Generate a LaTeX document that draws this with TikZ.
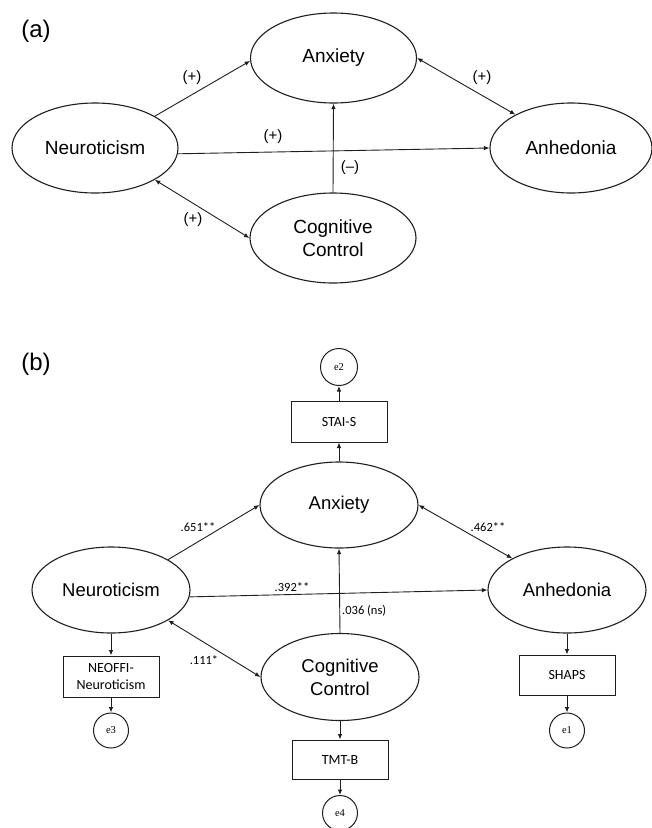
\documentclass[tikz,border=0pt]{standalone}
\usepackage{fontspec}
\setmainfont{Liberation Sans}
\newfontfamily\calfont{Carlito}
\newfontfamily\serfont{Liberation Serif}
\usetikzlibrary{shapes.geometric,arrows.meta}
\definecolor{ink}{gray}{0.12}

\begin{document}
\begin{tikzpicture}[x=1pt,y=-1pt,
    latent/.style={draw=ink,line width=1.1pt,ellipse,inner sep=0pt,align=center,
      minimum width=166pt,minimum height=90pt,font=\fontsize{19}{23}\selectfont},
    latentb/.style={latent,minimum width=158pt,minimum height=86pt,font=\fontsize{18.5}{23}\selectfont},
    obs/.style={draw=ink,line width=1pt,rectangle,inner sep=0pt,align=center,
      minimum width=96pt,minimum height=41pt,font=\calfont\fontsize{14}{17}\selectfont},
    err/.style={draw=ink,line width=1pt,circle,inner sep=0pt,minimum size=37pt,
      font=\serfont\fontsize{10.5}{10.5}\selectfont},
    sign/.style={inner sep=0pt,font=\fontsize{15}{15}\selectfont},
    coef/.style={inner sep=0pt,font=\calfont\fontsize{12.5}{12.5}\selectfont},
    arr/.style={draw=ink,line width=0.9pt,-{Latex[length=5.5pt,width=4.5pt]}},
    darr/.style={draw=ink,line width=0.9pt,{Latex[length=5.5pt,width=4.5pt]}-{Latex[length=5.5pt,width=4.5pt]}}]
  \useasboundingbox (0,0) rectangle (652,828);

  % (a) hypothesised model
  \node[font=\fontsize{24}{24}\selectfont] (labA) at (36,31) {(a)};
  \node[latent] (anxA) at (333.5,58) {Anxiety};
  \node[latent] (neuA) at (95,148) {Neuroticism};
  \node[latent,minimum width=162pt] (anhA) at (571,148) {Anhedonia};
  \node[latent] (ccA) at (333,238) {Cognitive\\Control};

  \draw[arr] (neuA.28) -- (anxA.182);
  \draw[arr] (neuA.-4) -- (anhA.west);
  \draw[arr] (ccA.north) -- (anxA.south);
  \draw[darr] (neuA.-28) -- (ccA.west);
  \draw[darr] (anxA.east) -- (anhA.149);

  \node[sign] (sAa) at (192,78) {(+)};
  \node[sign] (sAb) at (273,137) {(+)};
  \node[sign] (sAc) at (350,168) {(--)};
  \node[sign] (sAd) at (193,220) {(+)};
  \node[sign] (sAe) at (482,78) {(+)};

  % (b) fitted model
  \node[font=\fontsize{24}{24}\selectfont] (labB) at (36,364) {(b)};
  \node[err] (e2) at (339,367) {e2};
  \node[obs] (stai) at (339,421.5) {STAI-S};
  \node[latentb] (anxB) at (339,505) {Anxiety};
  \node[latentb] (neuB) at (111,590) {Neuroticism};
  \node[latentb] (anhB) at (567,590) {Anhedonia};
  \node[latentb,minimum height=87pt] (ccB) at (340,677) {Cognitive\\Control};
  \node[obs] (neo) at (111,676.5) {NEOFFI-\\Neuroticism};
  \node[obs,minimum height=40pt] (shaps) at (567,675) {SHAPS};
  \node[obs,minimum height=39pt] (tmt) at (340,759.5) {TMT-B};
  \node[err,minimum size=35pt] (e3) at (111,730.5) {e3};
  \node[err,minimum size=35pt] (e1) at (567,730.5) {e1};
  \node[err,minimum size=35pt] (e4) at (340,813) {e4};

  \draw[arr] (anxB.north) -- (stai.south);
  \draw[arr] (stai.north) -- (e2.south);
  \draw[arr] (neuB.28) -- (anxB.west);
  \draw[arr] (neuB.-5) -- (anhB.west);
  \draw[arr] (ccB.north) -- (anxB.south);
  \draw[darr] (neuB.-28) -- (ccB.west);
  \draw[darr] (anxB.east) -- (anhB.150);
  \draw[arr] (neuB.south) -- (neo.north);
  \draw[arr] (neo.south) -- (e3.north);
  \draw[arr] (anhB.south) -- (shaps.north);
  \draw[arr] (shaps.south) -- (e1.north);
  \draw[arr] (ccB.south) -- (tmt.north);
  \draw[arr] (tmt.south) -- (e4.north);

  \node[coef] (cBa) at (198,527) {.651**};
  \node[coef] (cBb) at (292,587) {.392**};
  \node[coef,anchor=west] (cBc) at (342,611) {.036 (ns)};
  \node[coef] (cBd) at (204,660) {.111*};
  \node[coef] (cBe) at (488,527) {.462**};
\end{tikzpicture}
\end{document}
